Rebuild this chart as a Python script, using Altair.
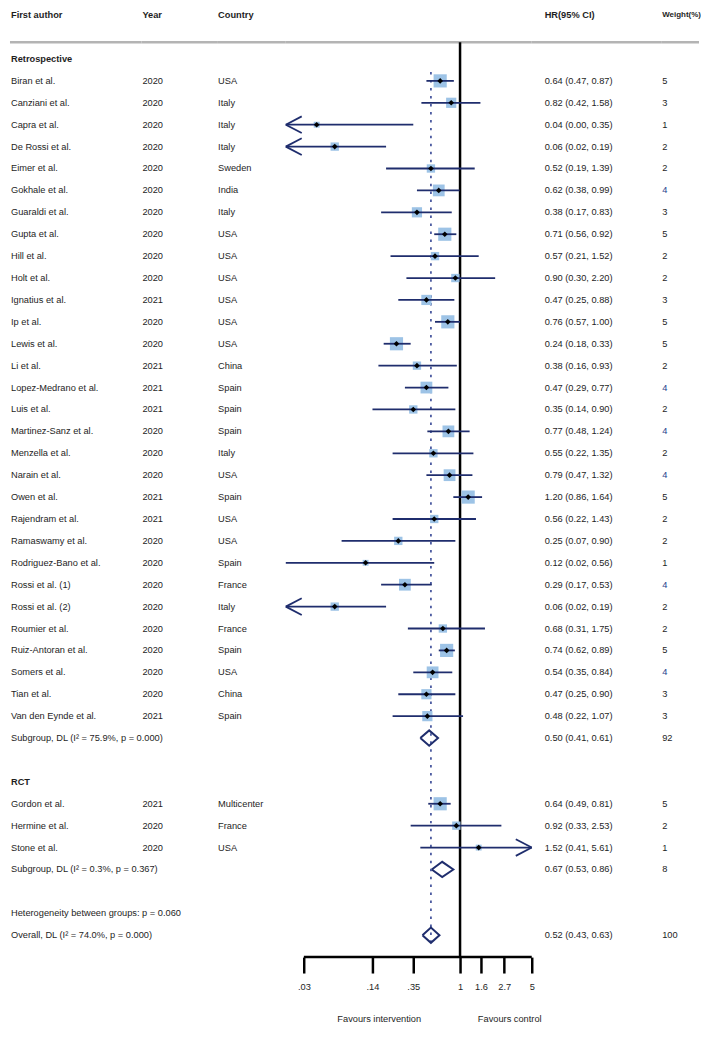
import altair as alt
import pandas as pd

# ---------------- data ----------------
headers = ["First author", "Year", "Country", "HR(95% CI)", "Weight(%)"]
group_titles = ["Retrospective", "RCT"]

retro_authors = ["Biran et al.", "Canziani et al.", "Capra et al.", "De Rossi et al.", "Eimer et al.",
                 "Gokhale et al.", "Guaraldi et al.", "Gupta et al.", "Hill et al.", "Holt et al.",
                 "Ignatius et al.", "Ip et al.", "Lewis et al.", "Li et al.", "Lopez-Medrano et al.",
                 "Luis et al.", "Martinez-Sanz et al.", "Menzella et al.", "Narain et al.", "Owen et al.",
                 "Rajendram et al.", "Ramaswamy et al.", "Rodriguez-Bano et al.", "Rossi et al. (1)",
                 "Rossi et al. (2)", "Roumier et al.", "Ruiz-Antoran et al.", "Somers et al.",
                 "Tian et al.", "Van den Eynde et al."]
retro_years = [2020, 2020, 2020, 2020, 2020, 2020, 2020, 2020, 2020, 2020,
               2021, 2020, 2020, 2021, 2021, 2021, 2020, 2020, 2020, 2021,
               2021, 2020, 2020, 2020, 2020, 2020, 2020, 2020, 2020, 2021]
retro_countries = ["USA", "Italy", "Italy", "Italy", "Sweden", "India", "Italy", "USA", "USA", "USA",
                   "USA", "USA", "USA", "China", "Spain", "Spain", "Spain", "Italy", "USA", "Spain",
                   "USA", "USA", "Spain", "France", "Italy", "France", "Spain", "USA", "China", "Spain"]
retro_hr = [0.64, 0.82, 0.04, 0.06, 0.52, 0.62, 0.38, 0.71, 0.57, 0.90,
            0.47, 0.76, 0.24, 0.38, 0.47, 0.35, 0.77, 0.55, 0.79, 1.20,
            0.56, 0.25, 0.12, 0.29, 0.06, 0.68, 0.74, 0.54, 0.47, 0.48]
retro_lo = [0.47, 0.42, 0.001, 0.019, 0.19, 0.38, 0.17, 0.56, 0.21, 0.30,
            0.25, 0.57, 0.18, 0.16, 0.29, 0.14, 0.48, 0.22, 0.47, 0.86,
            0.22, 0.07, 0.02, 0.17, 0.019, 0.31, 0.62, 0.35, 0.25, 0.22]
retro_hi = [0.87, 1.58, 0.35, 0.19, 1.39, 0.99, 0.83, 0.92, 1.52, 2.20,
            0.88, 1.00, 0.33, 0.93, 0.77, 0.90, 1.24, 1.35, 1.32, 1.64,
            1.43, 0.90, 0.56, 0.53, 0.19, 1.75, 0.89, 0.84, 0.90, 1.07]
retro_w = [5, 3, 1, 2, 2, 4, 3, 5, 2, 2, 3, 5, 5, 2, 4, 2, 4, 2, 4, 5,
           2, 2, 1, 4, 2, 2, 5, 4, 3, 3]

rct_authors = ["Gordon et al.", "Hermine et al.", "Stone et al."]
rct_years = [2021, 2020, 2020]
rct_countries = ["Multicenter", "France", "USA"]
rct_hr = [0.64, 0.92, 1.52]
rct_lo = [0.49, 0.33, 0.41]
rct_hi = [0.81, 2.53, 5.61]
rct_w = [5, 2, 1]

summary_labels = ["Subgroup, DL (I\u00b2 = 75.9%, p = 0.000)",
                  "Subgroup, DL (I\u00b2 = 0.3%, p = 0.367)",
                  "Overall, DL (I\u00b2 = 74.0%, p = 0.000)"]
summary_hr = [0.50, 0.67, 0.52]
summary_lo = [0.41, 0.53, 0.43]
summary_hi = [0.61, 0.86, 0.63]
summary_w = [92, 8, 100]
heterogeneity_text = "Heterogeneity between groups: p = 0.060"

tick_values = [0.03, 0.14, 0.35, 1, 1.6, 2.7, 5]
tick_labels = [".03", ".14", ".35", "1", "1.6", "2.7", "5"]
x_min, x_max = 0.02, 5
favour_labels = ["Favours intervention", "Favours control"]
favour_x = [0.163, 3.05]

# ---------------- styles ----------------
FONT = "Liberation Sans"
FS = 9.3
TXT = "#1e1e1e"
NAVY = "#1f2d6d"
BOX = "#9dc3e6"
W4 = "#26418c"
ROW_PX = 22.0
HEADER_ROW = -2
TOP_ROW = -2.227
HLINE_ROW = -0.76
AXIS_ROW = 41
H = round((AXIS_ROW - TOP_ROW) * ROW_PX)
ARROW_LEN = 1.43   # multiplicative length of an arrowhead on the log axis
ARROW_HALF = 0.38  # half-height of an arrowhead, in rows

# ---------------- table building ----------------
text_rows = []
study_rows = []
summary_rows = []
arrow_rows = []


def add_text(row, a="", b="", c="", e="", f="", bold=False, wc=TXT):
    text_rows.append(dict(row=row, A=a, B=b, C=c, E=e, F=f, bold=bold, wcol=wc))


def fmt(h, l, u):
    return f"{h:.2f} ({l:.2f}, {u:.2f})"


r = 0
groups = [
    (group_titles[0], retro_authors, retro_years, retro_countries, retro_hr, retro_lo, retro_hi, retro_w),
    (group_titles[1], rct_authors, rct_years, rct_countries, rct_hr, rct_lo, rct_hi, rct_w),
]
for gi, (title, au, yr, co, hh, ll, uu, ww) in enumerate(groups):
    add_text(r, a=title, bold=True)
    r += 1
    for i in range(len(au)):
        add_text(r, a=au[i], b=str(yr[i]), c=co[i], e=fmt(hh[i], ll[i], uu[i]), f=str(ww[i]),
                 wc=(W4 if ww[i] == 4 else TXT))
        study_rows.append(dict(row=r, hr=hh[i], lo_c=max(ll[i], x_min), hi_c=min(uu[i], x_max), w=ww[i]))
        if ll[i] < x_min:
            for sgn in (-1, 1):
                arrow_rows.append(dict(x=x_min, x2=x_min * ARROW_LEN, row=r, row2=r + sgn * ARROW_HALF))
        if uu[i] > x_max:
            for sgn in (-1, 1):
                arrow_rows.append(dict(x=x_max, x2=x_max / ARROW_LEN, row=r, row2=r + sgn * ARROW_HALF))
        r += 1
    add_text(r, a=summary_labels[gi], e=fmt(summary_hr[gi], summary_lo[gi], summary_hi[gi]),
             f=str(summary_w[gi]))
    summary_rows.append(dict(id=gi, row=r, hr=summary_hr[gi], lo=summary_lo[gi], hi=summary_hi[gi]))
    r += 2
add_text(r, a=heterogeneity_text)
r += 1
add_text(r, a=summary_labels[2], e=fmt(summary_hr[2], summary_lo[2], summary_hi[2]), f=str(summary_w[2]))
summary_rows.append(dict(id=2, row=r, hr=summary_hr[2], lo=summary_lo[2], hi=summary_hi[2]))
overall_row = r

tdf = pd.DataFrame(text_rows)
sdf = pd.DataFrame(study_rows)
adf = pd.DataFrame(arrow_rows)
hdr = pd.DataFrame([dict(row=HEADER_ROW, A=headers[0], B=headers[1], C=headers[2], E=headers[3], F=headers[4])])
hline = pd.DataFrame([dict(row=HLINE_ROW)])

DH = 0.35
dia = []
for s in summary_rows:
    pts = [(s["lo"], s["row"]), (s["hr"], s["row"] - DH), (s["hi"], s["row"]),
           (s["hr"], s["row"] + DH), (s["lo"], s["row"])]
    for k, (x, y) in enumerate(pts):
        dia.append(dict(id=s["id"], k=k, x=x, row=y))
ddf = pd.DataFrame(dia)

YS = alt.Scale(domain=[TOP_ROW, AXIS_ROW], reverse=True, nice=False, zero=False)


def Yf(field="row:Q"):
    return alt.Y(field, scale=YS, axis=None)


label_expr = " : ".join(
    [f"datum.value == {v} ? '{l}'" for v, l in zip(tick_values, tick_labels)]) + " : ''"
XAX = alt.Axis(values=tick_values, labelExpr=label_expr, domain=False, grid=False, ticks=True,
               tickSize=16, tickWidth=2.5, tickColor="black", labelFont=FONT, labelFontSize=FS,
               labelColor=TXT, labelPadding=9.5, labelOverlap=False, labelFlush=False, title=None)
XS = alt.Scale(type="log", domain=[x_min, x_max], nice=False)


def X(field):
    return alt.X(field, scale=XS, axis=XAX)


def hline_layer():
    return alt.Chart(hline).mark_rule(color="#b4b4b4", strokeWidth=2.5).encode(
        x=alt.value(0), x2=alt.value("width"), y=Yf())


def text_panel(col, width, xoff, bold_col=False, color_field=None, header_size=FS):
    layers = [hline_layer()]
    layers.append(alt.Chart(hdr).mark_text(align="left", baseline="middle", font=FONT, fontSize=header_size,
                                           fontWeight="bold", color=TXT).encode(
        x=alt.value(xoff), y=Yf(), text=f"{col}:N"))
    base = alt.Chart(tdf).transform_filter(f"datum.{col} != ''")
    if bold_col:
        layers.append(base.transform_filter("datum.bold").mark_text(
            align="left", baseline="middle", font=FONT, fontSize=FS, fontWeight="bold", color=TXT
        ).encode(x=alt.value(xoff), y=Yf(), text=f"{col}:N"))
        layers.append(base.transform_filter("!datum.bold").mark_text(
            align="left", baseline="middle", font=FONT, fontSize=FS, color=TXT
        ).encode(x=alt.value(xoff), y=Yf(), text=f"{col}:N"))
    elif color_field:
        layers.append(base.mark_text(align="left", baseline="middle", font=FONT, fontSize=FS).encode(
            x=alt.value(xoff), y=Yf(), text=f"{col}:N",
            color=alt.Color(f"{color_field}:N", scale=None)))
    else:
        layers.append(base.mark_text(align="left", baseline="middle", font=FONT, fontSize=FS,
                                     color=TXT).encode(x=alt.value(xoff), y=Yf(), text=f"{col}:N"))
    return alt.layer(*layers).properties(width=width, height=H)


pA = text_panel("A", 132, 1, bold_col=True)
pB = text_panel("B", 76, 1)
pC = text_panel("C", 69, 1)
pE = text_panel("E", 130, 13)
pF = text_panel("F", 38, 1, color_field="wcol", header_size=8)

# ---------------- forest panel ----------------
vline = pd.DataFrame([dict(x=1, y1=HLINE_ROW, y2=AXIS_ROW)])
dotted = pd.DataFrame([dict(x=summary_hr[2], y1=0.6, y2=overall_row + 0.5)])
axline = pd.DataFrame([dict(x=tick_values[0], x2=tick_values[-1], row=AXIS_ROW)])
fav = pd.DataFrame(dict(x=favour_x, label=favour_labels, row=[AXIS_ROW + 2.82] * 2))

f_layers = [
    hline_layer(),
    alt.Chart(dotted).mark_rule(color="#4b5aa0", strokeWidth=1.8, strokeDash=[2.5, 5.5]).encode(
        x=X("x:Q"), y=Yf("y1:Q"), y2="y2:Q"),
    alt.Chart(vline).mark_rule(color="black", strokeWidth=2.5).encode(
        x=X("x:Q"), y=Yf("y1:Q"), y2="y2:Q"),
    alt.Chart(axline).mark_rule(color="black", strokeWidth=2.5).encode(
        x=X("x:Q"), x2="x2:Q", y=Yf()),
    alt.Chart(sdf).mark_square(color=BOX, opacity=1).encode(
        x=X("hr:Q"), y=Yf(),
        size=alt.Size("w:Q", scale=alt.Scale(domain=[0, 5], range=[0, 175]), legend=None)),
    alt.Chart(sdf).mark_rule(color=NAVY, strokeWidth=1.8).encode(
        x=X("lo_c:Q"), x2="hi_c:Q", y=Yf()),
    alt.Chart(adf).mark_rule(color=NAVY, strokeWidth=1.8).encode(
        x=X("x:Q"), x2="x2:Q", y=Yf(), y2="row2:Q"),
    alt.Chart(sdf).mark_point(shape="diamond", filled=True, color="black", size=32, opacity=1).encode(
        x=X("hr:Q"), y=Yf()),
    alt.Chart(ddf).mark_line(color=NAVY, strokeWidth=2, strokeJoin="miter").encode(
        x=X("x:Q"), y=Yf(), detail="id:N", order="k:Q"),
    alt.Chart(fav).mark_text(align="center", baseline="middle", font=FONT, fontSize=FS, color=TXT).encode(
        x=X("x:Q"), y=Yf(), text="label:N"),
]
pD = alt.layer(*f_layers).properties(width=247, height=H)

chart = alt.hconcat(pA, pB, pC, pD, pE, pF, spacing=0, bounds="flush").properties(
    padding=0).configure_view(stroke=None)

chart.save("out.html", embed_options={"renderer": "svg", "actions": False})
